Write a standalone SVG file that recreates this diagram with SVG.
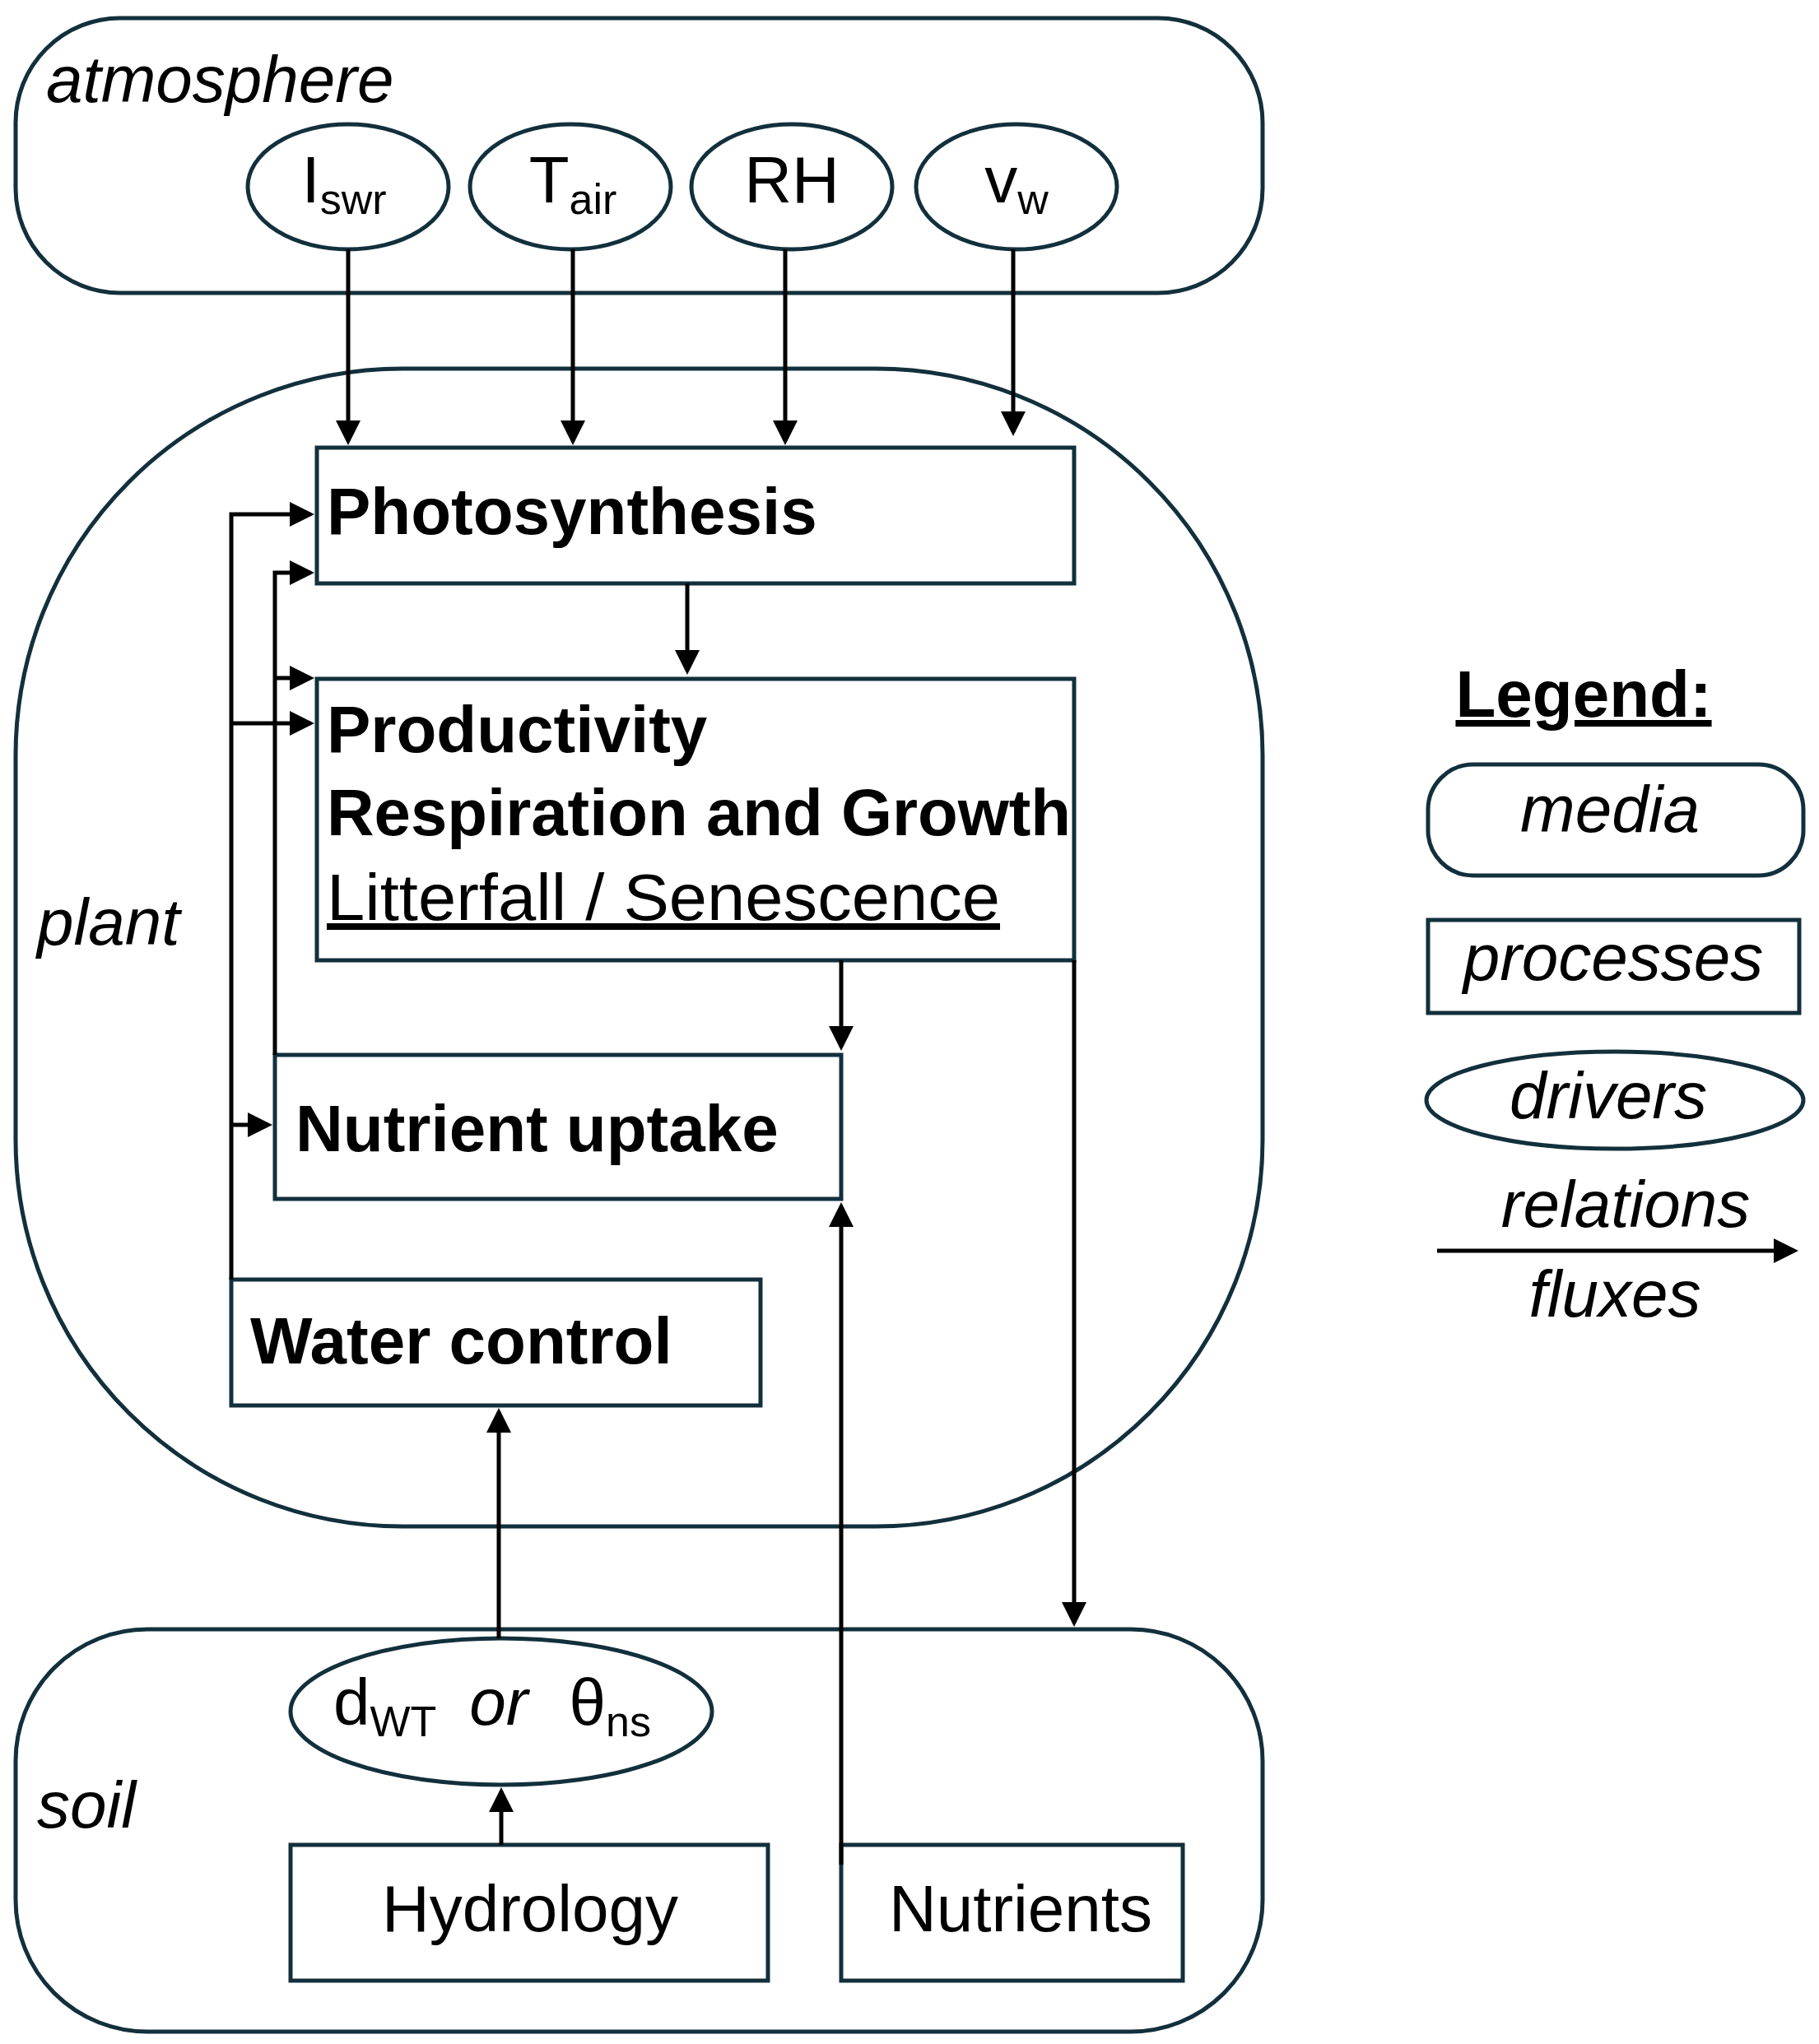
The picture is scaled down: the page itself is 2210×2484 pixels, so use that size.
<svg xmlns="http://www.w3.org/2000/svg" width="2210" height="2484" viewBox="0 0 2210 2484">
<style>
.m{fill:none;stroke:#12303c;stroke-width:5}
.a{fill:none;stroke:#000;stroke-width:5;marker-end:url(#ah)}
.t{font-family:"Liberation Sans",Arial,sans-serif;font-size:80px;fill:#000}
.i{font-style:italic}
.b{font-weight:bold}
.s{font-size:52px}
</style>
<defs><marker id="ah" markerWidth="6" markerHeight="6" refX="5" refY="3" orient="auto" markerUnits="strokeWidth"><path d="M0,0 L6,3 L0,6 z" fill="#000"/></marker></defs>
<rect width="2210" height="2484" fill="#fff"/>
<g id="atmosphere"><rect class="m" x="19" y="22" width="1515" height="334" rx="127"/><text class="t i" x="56" y="124">atmosphere</text></g>
<g id="plant"><rect class="m" x="19" y="448" width="1515" height="1407" rx="470"/><text class="t i" x="45" y="1148">plant</text></g>
<g id="soil"><rect class="m" x="19" y="1980" width="1515" height="489" rx="160"/><text class="t i" x="45" y="2221">soil</text></g>
<g id="Iswr"><ellipse class="m" cx="423" cy="227" rx="122" ry="76"/><text class="t" x="418" y="246" text-anchor="middle">I<tspan class="s" dy="14">swr</tspan></text></g>
<g id="Tair"><ellipse class="m" cx="693" cy="227" rx="122" ry="76"/><text class="t" x="696" y="246" text-anchor="middle">T<tspan class="s" dy="14">air</tspan></text></g>
<g id="RH"><ellipse class="m" cx="962" cy="227" rx="122" ry="76"/><text class="t" x="962" y="246" text-anchor="middle">RH</text></g>
<g id="vw"><ellipse class="m" cx="1235" cy="227" rx="122" ry="76"/><text class="t" x="1235" y="246" text-anchor="middle">v<tspan class="s" dy="14">w</tspan></text></g>
<g id="photosynthesis"><rect class="m" x="385" y="544" width="920" height="165"/><text class="t b" x="397" y="649">Photosynthesis</text></g>
<g id="productivity"><rect class="m" x="385" y="825" width="920" height="342"/><text class="t b" x="397" y="914">Productivity</text><text class="t b" x="397" y="1015" textLength="904" lengthAdjust="spacingAndGlyphs">Respiration and Growth</text><text class="t" x="397" y="1118" text-decoration="underline" textLength="818" lengthAdjust="spacingAndGlyphs">Litterfall / Senescence</text></g>
<g id="nutrientuptake"><rect class="m" x="334" y="1282" width="688" height="175"/><text class="t b" x="359" y="1399">Nutrient uptake</text></g>
<g id="watercontrol"><rect class="m" x="281" y="1555" width="643" height="153"/><text class="t b" x="304" y="1657">Water control</text></g>
<g id="dwt"><ellipse class="m" cx="609" cy="2080" rx="256" ry="89"/><text class="t" x="405" y="2096">d<tspan class="s" dy="14">WT</tspan><tspan dy="-14" class="i" dx="40">or</tspan><tspan dx="50">θ</tspan><tspan class="s" dy="14">ns</tspan></text></g>
<g id="hydrology"><rect class="m" x="353" y="2242" width="580" height="165"/><text class="t" x="644" y="2347" text-anchor="middle">Hydrology</text></g>
<g id="nutrients"><rect class="m" x="1022" y="2242" width="415" height="165"/><text class="t" x="1240" y="2347" text-anchor="middle">Nutrients</text></g>
<g id="legend">
<text class="t b" x="1924" y="871" text-anchor="middle" text-decoration="underline">Legend:</text>
<rect class="m" x="1735" y="929" width="456" height="135" rx="55"/><text class="t i" x="1956" y="1011" text-anchor="middle">media</text>
<rect class="m" x="1735" y="1118" width="451" height="113"/><text class="t i" x="1960" y="1191" text-anchor="middle">processes</text>
<ellipse class="m" cx="1962" cy="1337" rx="229" ry="59"/><text class="t i" x="1954" y="1359" text-anchor="middle">drivers</text>
<text class="t i" x="1975" y="1491" text-anchor="middle">relations</text>
<path class="a" d="M1746,1520 H2180"/>
<text class="t i" x="1962" y="1600" text-anchor="middle">fluxes</text>
</g>
<g id="connectors">
<path class="a" d="M423,303 V536"/>
<path class="a" d="M696,303 V536"/>
<path class="a" d="M954,303 V536"/>
<path class="a" d="M1231,303 V525"/>
<path class="a" d="M835,709 V815"/>
<path class="a" d="M281,1555 V625 H377"/>
<path class="a" d="M281,879 H377"/>
<path class="a" d="M281,1367 H326"/>
<path class="a" d="M334,1282 V696 H377"/>
<path class="a" d="M334,824 H377"/>
<path class="a" d="M1022,1167 V1272"/>
<path class="a" d="M1305,1167 V1972"/>
<path class="a" d="M1022,2266 V1466"/>
<path class="a" d="M606,1991 V1716"/>
<path class="a" d="M609,2242 V2177"/>
</g>
</svg>
